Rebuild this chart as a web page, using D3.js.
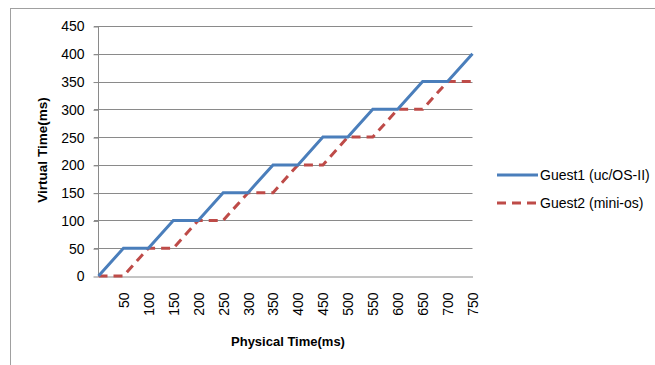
<!DOCTYPE html>
<html>
<head>
<meta charset="utf-8">
<script src="https://cdn.jsdelivr.net/npm/d3@7/dist/d3.min.js"></script>
<style>
  html, body { margin: 0; padding: 0; background: #fff; }
  svg { display: block; }
  text { font-family: "Liberation Sans", Arial, sans-serif; fill: #000; }
</style>
</head>
<body>
<svg id="chart" width="655" height="365"></svg>
<script>
const xValues = [0, 50, 100, 150, 200, 250, 300, 350, 400, 450, 500, 550, 600, 650, 700, 750];
const xTickLabels = [50, 100, 150, 200, 250, 300, 350, 400, 450, 500, 550, 600, 650, 700, 750];
const guest1 = [0, 50, 50, 100, 100, 150, 150, 200, 200, 250, 250, 300, 300, 350, 350, 400];
const guest2 = [0, 0, 50, 50, 100, 100, 150, 150, 200, 200, 250, 250, 300, 300, 350, 350];
const yTicks = [0, 50, 100, 150, 200, 250, 300, 350, 400, 450];
const seriesNames = ["Guest1 (uc/OS-II)", "Guest2 (mini-os)"];
const seriesColors = ["#4A7EBB", "#BE4B48"];

const svg = d3.select("#chart");

// chart frame
svg.append("rect").attr("x", 10.5).attr("y", 8.5).attr("width", 700).attr("height", 400)
  .attr("fill", "none").attr("stroke", "#a0a0a0").attr("stroke-width", 1);

const x = d3.scaleLinear().domain([0, 750]).range([98.5, 472.5]);
const y = d3.scaleLinear().domain([0, 450]).range([276, 26]);

// gridlines
svg.append("g").selectAll("line").data(yTicks.filter(d => d > 0)).join("line")
  .attr("x1", 94).attr("x2", 472.5)
  .attr("y1", d => Math.round(y(d)) + 0.5).attr("y2", d => Math.round(y(d)) + 0.5)
  .attr("stroke", "#8a8a8a").attr("stroke-width", 1);

// y axis
const yAxis = svg.append("g").attr("transform", "translate(98.5,0.5)")
  .call(d3.axisLeft(y).tickValues(yTicks).tickSize(5).tickPadding(9));
yAxis.select(".domain").attr("stroke", "#8a8a8a").attr("d", `M0,${y(450)}V${y(0)}`);
yAxis.selectAll(".tick line").attr("stroke", "#8a8a8a");
yAxis.selectAll(".tick text").style("font-size", "14px").style("font-family", "Liberation Sans, Arial, sans-serif").attr("fill", "#000");

// x axis
const xAxis = svg.append("g").attr("transform", `translate(0,${Math.round(y(0)) + 0.5})`)
  .call(d3.axisBottom(x).tickValues(xTickLabels).tickSize(0).tickFormat(d3.format("d")));
xAxis.select(".domain").attr("stroke", "#8a8a8a");
xAxis.selectAll(".tick text")
  .style("font-size", "14px").style("font-family", "Liberation Sans, Arial, sans-serif").attr("fill", "#000")
  .attr("transform", "rotate(-90)")
  .attr("text-anchor", "end")
  .attr("x", -16).attr("y", 0).attr("dy", "0.35em");

// lines
const line = d3.line().x((d, i) => x(xValues[i])).y(d => y(d));
svg.append("path").datum(guest2).attr("d", line).attr("fill", "none")
  .attr("stroke", seriesColors[1]).attr("stroke-width", 3).attr("stroke-dasharray", "9,6");
svg.append("path").datum(guest1).attr("d", line).attr("fill", "none")
  .attr("stroke", seriesColors[0]).attr("stroke-width", 3);

// axis titles
svg.append("text").attr("x", 288).attr("y", 346).attr("text-anchor", "middle")
  .style("font-size", "13px").style("font-weight", "bold").text("Physical Time(ms)");
svg.append("text").attr("transform", "translate(47,150) rotate(-90)").attr("text-anchor", "middle")
  .style("font-size", "13.5px").style("font-weight", "bold").text("Virtual Time(ms)");

// legend
const legendY = [175, 203];
seriesNames.forEach((name, i) => {
  svg.append("line").attr("x1", 497).attr("x2", 538).attr("y1", legendY[i]).attr("y2", legendY[i])
    .attr("stroke", seriesColors[i]).attr("stroke-width", 3)
    .attr("stroke-dasharray", i === 1 ? "9,6" : null);
  svg.append("text").attr("x", 540).attr("y", legendY[i]).attr("dy", "0.35em")
    .style("font-size", "14px").text(name);
});
</script>
</body>
</html>
